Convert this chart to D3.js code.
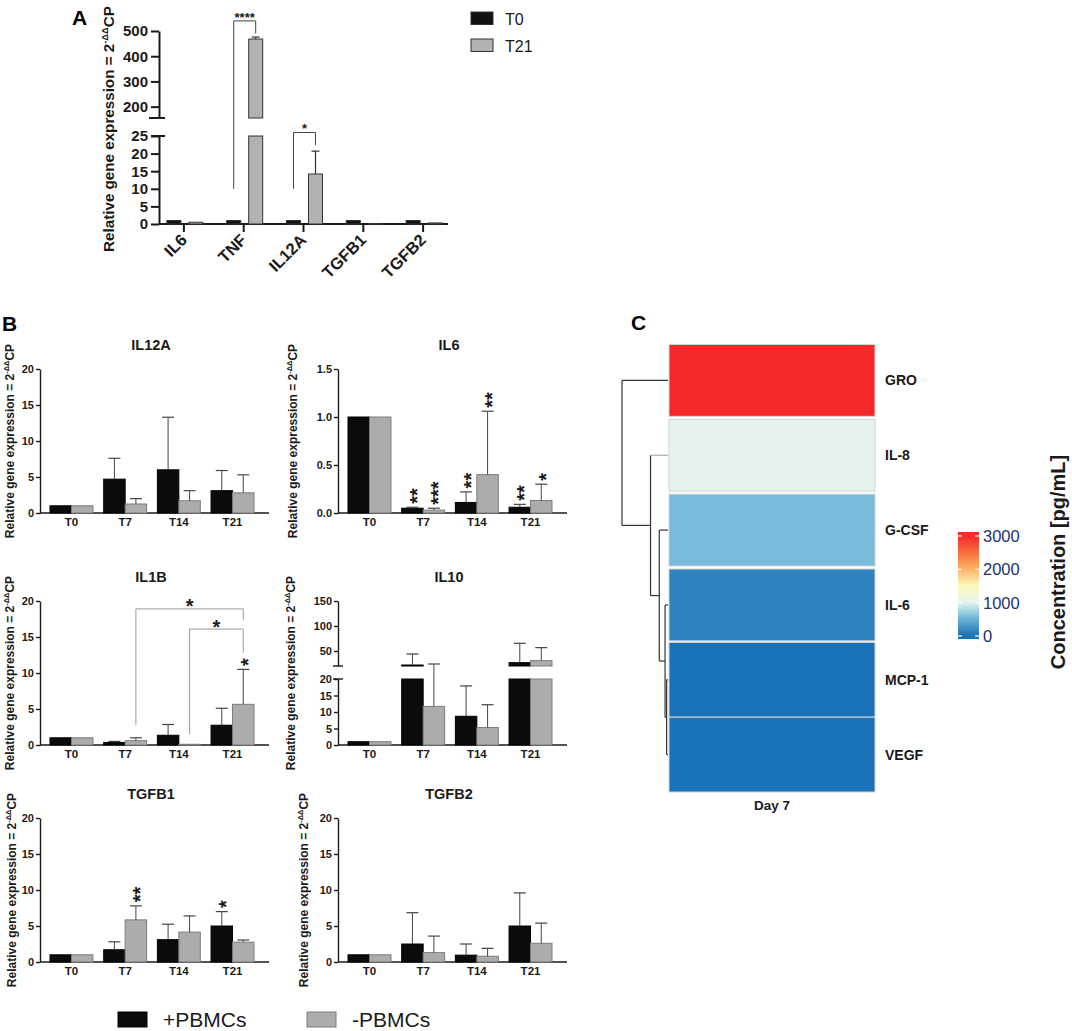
<!DOCTYPE html>
<html>
<head>
<meta charset="utf-8">
<script src="https://cdn.jsdelivr.net/npm/d3@7"></script>
<style>
  html, body { margin: 0; padding: 0; background: #fff; }
  svg { display: block; font-family: "Liberation Sans", Arial, Helvetica, sans-serif; }
</style>
</head>
<body>
<svg id="fig" width="1072" height="1031"></svg>
<script>
// ---------- panel A ----------
const aGenes = ['IL6', 'TNF', 'IL12A', 'TGFB1', 'TGFB2'];
const aGroups = ['T0', 'T21'];
const aT0 = [1, 1, 1, 1, 1];
const aT21 = [0.5, 468, 14.2, 0.05, 0.3];
const aT21Err = [0.5, 476, 20.7, 0.05, 0.3]; // top of error bar
const aSig = [
  { gene: 'TNF', from: 10, top: 540, to: 490, label: '****' },
  { gene: 'IL12A', from: 10, top: 26, to: 22.4, label: '*' },
];

// ---------- panel B ----------
const bTimes = ['T0', 'T7', 'T14', 'T21'];
const bGenes = ['IL12A', 'IL6', 'IL1B', 'IL10', 'TGFB1', 'TGFB2'];
const bGroups = ['+PBMCs', '-PBMCs'];
const bPlus = [
  [1, 4.7, 6.0, 3.1],
  [1, 0.05, 0.11, 0.06],
  [1, 0.35, 1.35, 2.75],
  [1, 22, 8.7, 26.7],
  [1, 1.7, 3.1, 5.0],
  [1, 2.5, 0.95, 5.0],
];
const bPlusErr = [
  [1, 7.6, 13.3, 5.9],
  [1, 0.06, 0.22, 0.09],
  [1, 0.5, 2.85, 5.1],
  [1, 44, 17.9, 65.4],
  [1, 2.8, 5.25, 7.0],
  [1, 6.85, 2.5, 9.6],
];
const bMinus = [
  [1, 1.25, 1.7, 2.8],
  [1, 0.03, 0.40, 0.13],
  [1, 0.6, 0.1, 5.65],
  [1, 11.7, 5.3, 30.7],
  [1, 5.85, 4.15, 2.75],
  [1, 1.3, 0.8, 2.6],
];
const bMinusErr = [
  [1, 2.0, 3.1, 5.3],
  [1, 0.05, 1.06, 0.30],
  [1, 1.0, 0.1, 10.5],
  [1, 24, 12.2, 56.7],
  [1, 7.8, 6.4, 3.05],
  [1, 3.6, 1.9, 5.4],
];
const bYMax = [20, 1.5, 20, 150, 20, 20];
const bTicks = [
  [0, 5, 10, 15, 20],
  [0, 0.5, 1.0, 1.5],
  [0, 5, 10, 15, 20],
  [0, 5, 10, 15, 20, 50, 100, 150],
  [0, 5, 10, 15, 20],
  [0, 5, 10, 15, 20],
];
const bStars = [
  { gene: 'IL6', time: 'T7', grp: '+PBMCs', label: '**' },
  { gene: 'IL6', time: 'T7', grp: '-PBMCs', label: '***' },
  { gene: 'IL6', time: 'T14', grp: '+PBMCs', label: '**' },
  { gene: 'IL6', time: 'T14', grp: '-PBMCs', label: '**' },
  { gene: 'IL6', time: 'T21', grp: '+PBMCs', label: '**' },
  { gene: 'IL6', time: 'T21', grp: '-PBMCs', label: '*' },
  { gene: 'IL1B', time: 'T21', grp: '-PBMCs', label: '*' },
  { gene: 'TGFB1', time: 'T7', grp: '-PBMCs', label: '**' },
  { gene: 'TGFB1', time: 'T21', grp: '+PBMCs', label: '*' },
];
const bBrackets = [
  { gene: 'IL1B', from: 'T7', to: 'T21', yFrom: 2.8, yTop: 18.9, yTo: 17.4, label: '*' },
  { gene: 'IL1B', from: 'T14', to: 'T21', yFrom: 1.5, yTop: 16.1, yTo: 12.8, label: '*' },
];

// ---------- panel C ----------
const cTargets = ['GRO', 'IL-8', 'G-CSF', 'IL-6', 'MCP-1', 'VEGF'];
const cConc = [3100, 1000, 580, 140, 25, 25];
const cLegendTicks = [0, 1000, 2000, 3000];
const cStopVals = [0, 600, 1000, 1500, 2000, 2500, 3000];
const cStopCols = ['#1570b6', '#7cbedc', '#e4f4ec', '#fdfbc0', '#fdb565', '#f76f3e', '#f5292a'];
// dendrogram: merge heights (relative)
const cTree = { h: 1.0, children: [
  { name: 'GRO' },
  { h: 0.38, children: [
    { name: 'IL-8' },
    { h: 0.19, children: [
      { name: 'G-CSF' },
      { h: 0.064, children: [
        { name: 'IL-6' },
        { h: 0.03, children: [{ name: 'MCP-1' }, { name: 'VEGF' }] },
      ] },
    ] },
  ] },
] };

const INK = '#1a1a1a';
const GREY = '#b2b2b4';
const svg = d3.select('#fig');
svg.append('rect').attr('width', 1072).attr('height', 1031).attr('fill', '#fff');

function styleAxis(g, size, width) {
  g.attr('font-family', null).attr('font-size', null);
  g.selectAll('text').attr('font-size', size).attr('font-weight', 'bold').attr('fill', INK);
  g.selectAll('line,path').attr('stroke', INK).attr('stroke-width', width);
}

function yLabel(g, x, y, size) {
  const t = g.append('text')
    .attr('transform', `translate(${x},${y}) rotate(-90)`)
    .attr('text-anchor', 'middle')
    .attr('font-size', size)
    .attr('font-weight', 'bold')
    .attr('fill', INK);
  t.append('tspan').text('Relative gene expression = 2');
  t.append('tspan').attr('font-size', size * 0.62).attr('dy', -size * 0.4).text('-ΔΔ');
  t.append('tspan').attr('dy', size * 0.4).text('CP');
}

function panelLetter(x, y, s) {
  svg.append('text').attr('x', x).attr('y', y).attr('font-size', 21)
    .attr('font-weight', 'bold').attr('fill', '#000').text(s);
}

// stack of asterisks, drawn as one rotated text so they sit one above the other
function starStack(g, cx, yBottom, label, size) {
  g.append('text')
    .attr('transform', `translate(${cx + size * 0.58},${yBottom}) rotate(-90)`)
    .attr('font-size', size).attr('font-weight', 'bold').attr('fill', INK)
    .text(label);
}

// ================= A =================
const gA = svg.append('g');
const xA = d3.scaleBand().domain(aGenes).range([154, 453]);
const subA = d3.scaleBand().domain(aGroups).range([-17, 19]).paddingInner(0.364);
const yLoA = d3.scaleLinear([0, 25], [224, 136]);
const yUpA = d3.scaleLinear([155, 500], [118, 31]);
const yA = (v) => (v < 90 ? yLoA(v) : yUpA(v));

gA.append('g').attr('transform', 'translate(159,0)')
  .call(d3.axisLeft(yUpA).tickValues([200, 300, 400, 500]).tickSize(8).tickSizeOuter(0).tickPadding(3))
  .call((g) => styleAxis(g, 15, 2));
gA.append('g').attr('transform', 'translate(159,0)')
  .call(d3.axisLeft(yLoA).tickValues([0, 5, 10, 15, 20, 25]).tickSize(8).tickSizeOuter(0).tickPadding(3))
  .call((g) => styleAxis(g, 15, 2));
// break marks
gA.append('line').attr('x1', 149).attr('x2', 165).attr('y1', yUpA(155)).attr('y2', yUpA(155))
  .attr('stroke', INK).attr('stroke-width', 2);
gA.append('line').attr('x1', 151).attr('x2', 165).attr('y1', yLoA(25)).attr('y2', yLoA(25))
  .attr('stroke', INK).attr('stroke-width', 2);

// x axis
const xAxA = gA.append('g').attr('transform', `translate(0,${yLoA(0)})`)
  .call(d3.axisBottom(xA).tickSize(8).tickSizeOuter(0).tickFormat(''))
  .call((g) => styleAxis(g, 14, 2));
xAxA.select('.domain').remove();
gA.append('line').attr('x1', 159).attr('x2', 448).attr('y1', yLoA(0)).attr('y2', yLoA(0))
  .attr('stroke', INK).attr('stroke-width', 2);
gA.selectAll('.xlab').data(aGenes).join('text')
  .attr('transform', (d) => `translate(${xA(d) + xA.bandwidth() / 2 + 4},${yLoA(0) + 17}) rotate(-45)`)
  .attr('text-anchor', 'end')
  .attr('font-size', 16.5).attr('font-weight', 'bold').attr('fill', INK)
  .text((d) => d);

// bars
const aRows = [];
aGenes.forEach((gene, i) => {
  aRows.push({ gene, grp: 'T0', v: aT0[i], err: aT0[i] });
  aRows.push({ gene, grp: 'T21', v: aT21[i], err: aT21Err[i] });
});
const aCx = (d) => xA(d.gene) + xA.bandwidth() / 2 + subA(d.grp);
aRows.forEach((d) => {
  const x0 = aCx(d);
  const fill = d.grp === 'T0' ? '#111' : GREY;
  const lowTop = yLoA(Math.min(d.v, 25));
  gA.append('rect').attr('x', x0).attr('width', subA.bandwidth())
    .attr('y', lowTop).attr('height', yLoA(0) - lowTop)
    .attr('fill', fill).attr('stroke', '#333').attr('stroke-width', 1);
  if (d.v > 155) {
    gA.append('rect').attr('x', x0).attr('width', subA.bandwidth())
      .attr('y', yUpA(d.v)).attr('height', yUpA(155) - yUpA(d.v))
      .attr('fill', fill).attr('stroke', '#333').attr('stroke-width', 1);
  }
  if (d.err > d.v + 0.2) {
    const cx = x0 + subA.bandwidth() / 2;
    gA.append('line').attr('x1', cx).attr('x2', cx).attr('y1', yA(d.v)).attr('y2', yA(d.err))
      .attr('stroke', '#333').attr('stroke-width', 1.2);
    gA.append('line').attr('x1', cx - 4).attr('x2', cx + 4).attr('y1', yA(d.err)).attr('y2', yA(d.err))
      .attr('stroke', '#333').attr('stroke-width', 1.2);
  }
});
// significance brackets
aSig.forEach((s) => {
  const xl = xA(s.gene) + xA.bandwidth() / 2 + subA('T0') + subA.bandwidth() / 2;
  const xr = xA(s.gene) + xA.bandwidth() / 2 + subA('T21') + subA.bandwidth() / 2;
  gA.append('path')
    .attr('d', `M${xl},${yA(s.from)}V${yA(s.top)}H${xr}V${yA(s.to)}`)
    .attr('fill', 'none').attr('stroke', '#444').attr('stroke-width', 1);
  gA.append('text').attr('x', (xl + xr) / 2).attr('y', yA(s.top) + 1)
    .attr('text-anchor', 'middle').attr('font-size', 13).attr('font-weight', 'bold')
    .attr('fill', INK).text(s.label);
});
yLabel(gA, 114, 129, 15.2);
panelLetter(72, 25, 'A');

// legend A
const legA = svg.append('g');
aGroups.forEach((grp, i) => {
  legA.append('rect').attr('x', 471).attr('y', 12 + i * 27).attr('width', 22).attr('height', 12.5)
    .attr('fill', i === 0 ? '#111' : GREY).attr('stroke', '#333').attr('stroke-width', 1);
  legA.append('text').attr('x', 505).attr('y', 24.5 + i * 27).attr('font-size', 16)
    .attr('fill', INK).text(grp);
});

// ================= B =================
const bCols = [40, 338];
const bBase = [513, 745, 962];
const bTop = [369, 601, 818];
const bLabelGap = [26, 41, 26, 43, 24, 30];
const bFill = ['#0b0b0b', '#acacac'];
const bStroke = ['#000', '#7c7c7c'];

bGenes.forEach((gene, i) => {
  const ax = bCols[i % 2];
  const y0 = bBase[Math.floor(i / 2)];
  const yT = bTop[Math.floor(i / 2)];
  const g = svg.append('g');
  const x = d3.scaleBand().domain(bTimes).range([ax + 10, ax + 214]).paddingInner(0.2);
  const xs = d3.scaleBand().domain(bGroups).range([0, x.bandwidth()]);

  let y;
  let pieces;
  if (gene === 'IL10') {
    const yl = d3.scaleLinear([0, 20], [y0, y0 - 66]);
    const yu = d3.scaleLinear([20, bYMax[i]], [y0 - 79, yT]);
    y = (v) => (v <= 20 ? yl(v) : yu(v));
    pieces = (v) => {
      const p = [[yl(Math.min(v, 20)), yl(0)]];
      if (v > 20) p.push([yu(v), yu(20)]);
      return p;
    };
    g.append('g').attr('transform', `translate(${ax},0)`)
      .call(d3.axisLeft(yl).tickValues(bTicks[i].filter((t) => t <= 20)).tickSize(4).tickSizeOuter(0).tickPadding(2).tickFormat(d3.format('d')))
      .call((a) => styleAxis(a, 11, 1.4));
    g.append('g').attr('transform', `translate(${ax},0)`)
      .call(d3.axisLeft(yu).tickValues(bTicks[i].filter((t) => t > 20)).tickSize(4).tickSizeOuter(0).tickPadding(2).tickFormat(d3.format('d')))
      .call((a) => styleAxis(a, 11, 1.4));
    [yu(20), yl(20)].forEach((yy) => {
      g.append('line').attr('x1', ax - 5).attr('x2', ax + 5).attr('y1', yy).attr('y2', yy)
        .attr('stroke', INK).attr('stroke-width', 1.4);
    });
  } else {
    const ys = d3.scaleLinear([0, bYMax[i]], [y0, yT]);
    y = ys;
    pieces = (v) => [[ys(v), ys(0)]];
    g.append('g').attr('transform', `translate(${ax},0)`)
      .call(d3.axisLeft(ys).tickValues(bTicks[i]).tickSize(4).tickSizeOuter(0).tickPadding(2)
        .tickFormat(bYMax[i] < 2 ? d3.format('.1f') : d3.format('d')))
      .call((a) => styleAxis(a, 11, 1.4));
  }

  // x axis
  g.append('line').attr('x1', ax).attr('x2', ax + 229).attr('y1', y0).attr('y2', y0)
    .attr('stroke', INK).attr('stroke-width', 1.4);
  g.selectAll('.xl').data(bTimes).join('text')
    .attr('x', (d) => x(d) + x.bandwidth() / 2).attr('y', y0 + 13)
    .attr('text-anchor', 'middle').attr('font-size', 11.5).attr('font-weight', 'bold')
    .attr('fill', INK).text((d) => d);

  // bars + error bars
  const means = [bPlus[i], bMinus[i]];
  const errs = [bPlusErr[i], bMinusErr[i]];
  bGroups.forEach((grp, k) => {
    bTimes.forEach((t, j) => {
      const v = means[k][j];
      const e = errs[k][j];
      const bx = x(t) + xs(grp);
      pieces(v).forEach(([top, bot]) => {
        g.append('rect').attr('x', bx).attr('width', xs.bandwidth())
          .attr('y', top).attr('height', Math.max(bot - top, 0.5))
          .attr('fill', bFill[k]).attr('stroke', bStroke[k]).attr('stroke-width', 1);
      });
      if (e > v) {
        const cx = bx + xs.bandwidth() / 2;
        g.append('line').attr('x1', cx).attr('x2', cx).attr('y1', y(v)).attr('y2', y(e))
          .attr('stroke', '#444').attr('stroke-width', 1);
        g.append('line').attr('x1', cx - 6).attr('x2', cx + 6).attr('y1', y(e)).attr('y2', y(e))
          .attr('stroke', '#444').attr('stroke-width', 1.2);
      }
    });
  });

  // stars above error bars
  bStars.filter((s) => s.gene === gene).forEach((s) => {
    const k = bGroups.indexOf(s.grp);
    const j = bTimes.indexOf(s.time);
    const cx = x(s.time) + xs(s.grp) + xs.bandwidth() / 2;
    const eTop = y(Math.max(errs[k][j], means[k][j]));
    starStack(g, cx, eTop - 3.5, s.label, 20);
  });

  // brackets
  bBrackets.filter((b) => b.gene === gene).forEach((b) => {
    const xl = x(b.from) + xs('-PBMCs') + xs.bandwidth() / 2;
    const xr = x(b.to) + xs('-PBMCs') + xs.bandwidth() / 2;
    g.append('path')
      .attr('d', `M${xl},${y(b.yFrom)}V${y(b.yTop)}H${xr}V${y(b.yTo)}`)
      .attr('fill', 'none').attr('stroke', '#9a9a9a').attr('stroke-width', 1);
    g.append('text').attr('x', (xl + xr) / 2).attr('y', y(b.yTop) - 7 + 11.5)
      .attr('text-anchor', 'middle').attr('font-size', 20).attr('font-weight', 'bold')
      .attr('fill', INK).text(b.label);
  });

  // title + y label
  g.append('text').attr('x', ax + 111).attr('y', yT - 19)
    .attr('text-anchor', 'middle').attr('font-size', 14.5).attr('font-weight', 'bold')
    .attr('fill', INK).text(gene);
  yLabel(g, ax - bLabelGap[i], (y0 + yT) / 2, 12);
});
panelLetter(2, 331, 'B');

// legend B
const legB = svg.append('g');
[[118, 163], [307, 352]].forEach(([rx, tx], k) => {
  legB.append('rect').attr('x', rx).attr('y', 1012).attr('width', 29).attr('height', 15)
    .attr('fill', bFill[k]).attr('stroke', bStroke[k]).attr('stroke-width', 1);
  legB.append('text').attr('x', tx).attr('y', 1027).attr('font-size', 21)
    .attr('fill', INK).text(bGroups[k]);
});

// ================= C =================
const gC = svg.append('g');
const xC = d3.scaleBand().domain(['Day 7']).range([669, 875]);
const yC = d3.scaleBand().domain(cTargets).range([343, 792]);
const color = d3.scaleLinear().domain(cStopVals).range(cStopCols).clamp(true);

cTargets.forEach((t, i) => {
  gC.append('rect').attr('x', xC('Day 7')).attr('width', xC.bandwidth())
    .attr('y', yC(t) + (i < 4 ? 1.5 : 0)).attr('height', yC.bandwidth() - (i < 4 ? 3 : 0))
    .attr('fill', color(cConc[i])).attr('stroke', '#d4d4d4').attr('stroke-width', 1);
  gC.append('text').attr('x', 885).attr('y', yC(t) + yC.bandwidth() / 2 + 5)
    .attr('font-size', 14).attr('font-weight', 'bold').attr('fill', INK).text(t);
});
gC.append('text').attr('x', xC('Day 7') + xC.bandwidth() / 2).attr('y', 810)
  .attr('text-anchor', 'middle').attr('font-size', 13.5).attr('font-weight', 'bold')
  .attr('fill', INK).text('Day 7');

// dendrogram
const root = d3.hierarchy(cTree);
const xD = d3.scaleLinear([0, 1], [668, 622]);
root.eachAfter((n) => {
  n.py = n.children ? d3.mean(n.children, (c) => c.py) : yC(n.data.name) + yC.bandwidth() / 2;
  n.px = xD(n.data.h || 0);
});
root.descendants().filter((n) => n.children).forEach((n) => {
  const ys = n.children.map((c) => c.py);
  gC.append('line').attr('x1', n.px).attr('x2', n.px).attr('y1', d3.min(ys)).attr('y2', d3.max(ys))
    .attr('stroke', '#333').attr('stroke-width', 1.2);
  n.children.forEach((c) => {
    gC.append('line').attr('x1', n.px).attr('x2', c.px).attr('y1', c.py).attr('y2', c.py)
      .attr('stroke', c.data.name === 'IL-8' ? '#aaa' : '#333').attr('stroke-width', 1.2);
  });
});

// colour legend
const yLeg = d3.scaleLinear([0, 3000], [636, 536]);
const legLo = -90, legHi = 3120;
const grad = svg.append('defs').append('linearGradient').attr('id', 'cgrad')
  .attr('x1', 0).attr('y1', 1).attr('x2', 0).attr('y2', 0);
d3.range(0, 1.0001, 0.05).forEach((o) => {
  grad.append('stop').attr('offset', o).attr('stop-color', color(legLo + o * (legHi - legLo)));
});
gC.append('rect').attr('x', 958).attr('width', 21).attr('y', yLeg(legHi))
  .attr('height', yLeg(legLo) - yLeg(legHi)).attr('fill', 'url(#cgrad)');
cLegendTicks.forEach((t) => {
  [[958, 962], [975, 979]].forEach(([a, b]) => {
    gC.append('line').attr('x1', a).attr('x2', b).attr('y1', yLeg(t)).attr('y2', yLeg(t))
      .attr('stroke', '#fff').attr('stroke-width', 1.2);
  });
  gC.append('text').attr('x', 983).attr('y', yLeg(t)).attr('dominant-baseline', 'central')
    .attr('font-size', 16.5).attr('fill', '#22346e').text(t);
});
gC.append('text').attr('transform', 'translate(1065,562) rotate(-90)')
  .attr('text-anchor', 'middle').attr('font-size', 20).attr('font-weight', 'bold')
  .attr('fill', INK).text('Concentration [pg/mL]');
panelLetter(631, 330, 'C');
</script>
</body>
</html>
